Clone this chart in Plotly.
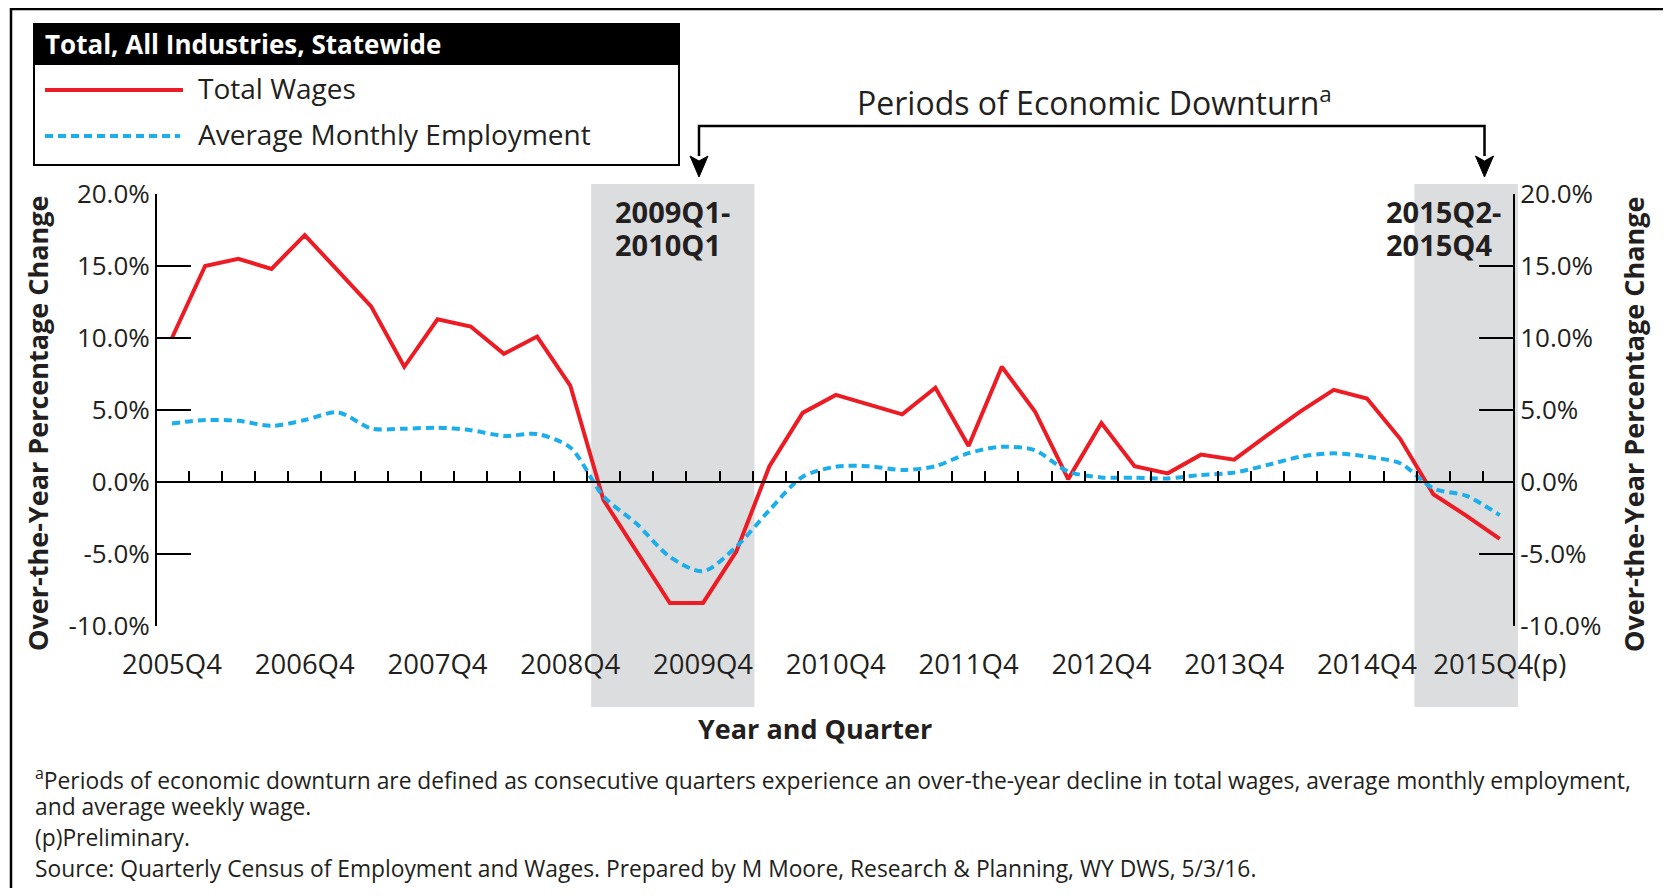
import plotly.graph_objects as go

quarters = ["2005Q4",
            "2006Q1", "2006Q2", "2006Q3", "2006Q4",
            "2007Q1", "2007Q2", "2007Q3", "2007Q4",
            "2008Q1", "2008Q2", "2008Q3", "2008Q4",
            "2009Q1", "2009Q2", "2009Q3", "2009Q4",
            "2010Q1", "2010Q2", "2010Q3", "2010Q4",
            "2011Q1", "2011Q2", "2011Q3", "2011Q4",
            "2012Q1", "2012Q2", "2012Q3", "2012Q4",
            "2013Q1", "2013Q2", "2013Q3", "2013Q4",
            "2014Q1", "2014Q2", "2014Q3", "2014Q4",
            "2015Q1", "2015Q2", "2015Q3", "2015Q4"]

total_wages = [10.0, 15.0, 15.5, 14.8, 17.15, 14.7, 12.2, 8.0, 11.3, 10.8, 8.9, 10.1, 6.7,
               -1.25, -4.84, -8.4, -8.4, -4.84, 1.1, 4.8, 6.05, 5.4, 4.7, 6.55, 2.5, 8.0,
               4.9, 0.2, 4.1, 1.1, 0.6, 1.9, 1.55, 3.25, 4.9, 6.4, 5.8, 3.0, -0.85, -2.35, -3.95]

avg_monthly_employment = [4.07, 4.3, 4.25, 3.9, 4.3, 4.84, 3.72, 3.7, 3.77, 3.6, 3.2, 3.33, 2.4,
                          -1.0, -2.9, -5.2, -6.2, -4.5, -1.95, 0.37, 1.06, 1.1, 0.83, 1.1, 2.0, 2.45,
                          2.2, 0.72, 0.32, 0.3, 0.25, 0.49, 0.65, 1.18, 1.76, 1.99, 1.76, 1.3,
                          -0.44, -0.97, -2.3]

x_label_quarters = ["2005Q4", "2006Q4", "2007Q4", "2008Q4", "2009Q4", "2010Q4",
                    "2011Q4", "2012Q4", "2013Q4", "2014Q4", "2015Q4"]
x_label_text = ["2005Q4", "2006Q4", "2007Q4", "2008Q4", "2009Q4", "2010Q4",
                "2011Q4", "2012Q4", "2013Q4", "2014Q4", "2015Q4(p)"]

y_ticks = [-10, -5, 0, 5, 10, 15, 20]
y_tick_text = ["-10.0%", "-5.0%", "0.0%", "5.0%", "10.0%", "15.0%", "20.0%"]

downturn_start = ["2009Q1", "2015Q2"]
downturn_end = ["2010Q1", "2015Q4"]
downturn_labels = [["2009Q1-", "2010Q1"], ["2015Q2-", "2015Q4"]]

RED = "#ED1C24"
BLUE = "#1BAEEA"
INK = "#231F20"
SHADE = "#DCDDDF"
FONT = "Open Sans"

# page coordinates of the plot area (the page body has an 8px margin)
OFF = 8
W, H = 1660, 880
L, T = 157 - OFF, 194 - OFF
R = W - (1513 - OFF)
B = H - (626 - OFF)
PW, PH = W - L - R, H - T - B


def px(x):
    return (x - OFF - L) / PW


def py(y):
    return (H - B - (y - OFF)) / PH


xi = list(range(len(quarters)))
xr = [-0.45, 40.4]


def dx(v):
    return (v - xr[0]) / (xr[1] - xr[0])


fig = go.Figure()
fig.add_trace(go.Scatter(x=xi, y=total_wages, mode="lines", name="Total Wages",
                         line=dict(color=RED, width=4), showlegend=False))
fig.add_trace(go.Scatter(x=xi, y=avg_monthly_employment, mode="lines",
                         name="Average Monthly Employment",
                         line=dict(color=BLUE, width=4, dash="8px,5px", shape="spline",
                                   smoothing=0.8),
                         showlegend=False))
# helper trace to activate secondary axes
fig.add_trace(go.Scatter(x=xi, y=total_wages, mode="lines", xaxis="x2", yaxis="y2",
                         line=dict(width=0, color="rgba(0,0,0,0)"), hoverinfo="skip",
                         showlegend=False))

shapes = []
annotations = []

# downturn shading
left_pad = [0.37, 0.57]
label_x = [613, 1384]
for k in range(len(downturn_start)):
    i0 = quarters.index(downturn_start[k])
    i1 = quarters.index(downturn_end[k])
    shapes.append(dict(type="rect", xref="paper", yref="paper",
                       x0=dx(i0 - left_pad[k]), x1=dx(i1 + 0.55),
                       y0=py(707), y1=py(184), fillcolor=SHADE, line=dict(width=0),
                       layer="below"))
    for j, line_txt in enumerate(downturn_labels[k]):
        annotations.append(dict(text="<b>" + line_txt + "</b>", xref="paper", yref="paper",
                                x=px(label_x[k]), y=py(211 + 33 * j), xanchor="left",
                                yanchor="middle", showarrow=False,
                                font=dict(family=FONT, size=29, color=INK)))

# outer frame
shapes.append(dict(type="rect", xref="paper", yref="paper", x0=px(11), x1=px(1666),
                   y0=py(905), y1=py(9), line=dict(color="black", width=2.5)))

# legend box
shapes.append(dict(type="rect", xref="paper", yref="paper", x0=px(34), x1=px(679),
                   y0=py(64), y1=py(24), fillcolor="black", line=dict(color="black", width=2)))
shapes.append(dict(type="rect", xref="paper", yref="paper", x0=px(34), x1=px(679),
                   y0=py(165), y1=py(24), line=dict(color="black", width=2)))
shapes.append(dict(type="line", xref="paper", yref="paper", x0=px(45), x1=px(183),
                   y0=py(90), y1=py(90), line=dict(color=RED, width=4)))
shapes.append(dict(type="line", xref="paper", yref="paper", x0=px(45), x1=px(180),
                   y0=py(136), y1=py(136), line=dict(color=BLUE, width=4, dash="8px,5px")))
annotations.append(dict(text="<b>Total, All Industries, Statewide</b>", xref="paper",
                        yref="paper", x=px(43), y=py(44), xanchor="left", yanchor="middle",
                        showarrow=False, font=dict(family=FONT, size=26, color="white")))
annotations.append(dict(text="Total Wages", xref="paper", yref="paper", x=px(196), y=py(88),
                        xanchor="left", yanchor="middle", showarrow=False,
                        font=dict(family=FONT, size=28, color=INK)))
annotations.append(dict(text="Average Monthly Employment", xref="paper", yref="paper",
                        x=px(196), y=py(134), xanchor="left", yanchor="middle",
                        showarrow=False, font=dict(family=FONT, size=28, color=INK)))

# bracket with arrows
bx0, bx1, by, tip, base = 699, 1484.5, 126, 177, 156
shapes.append(dict(type="path", xref="paper", yref="paper",
                   path=f"M {px(bx0)} {py(base)} L {px(bx0)} {py(by)} L {px(bx1)} {py(by)} "
                        f"L {px(bx1)} {py(base)}",
                   line=dict(color="black", width=2.5)))
for bx in (bx0, bx1):
    shapes.append(dict(type="path", xref="paper", yref="paper",
                       path=f"M {px(bx - 9)} {py(base)} L {px(bx)} {py(tip)} "
                            f"L {px(bx + 9)} {py(base)} L {px(bx)} {py(base + 5)} Z",
                       fillcolor="black", line=dict(color="black", width=1)))
annotations.append(dict(text="Periods of Economic Downturn<sup>a</sup>", xref="paper",
                        yref="paper", x=px(1094), y=py(101), xanchor="center",
                        yanchor="middle", showarrow=False,
                        font=dict(family=FONT, size=32, color=INK)))

# axis titles
annotations.append(dict(text="<b>Over-the-Year Percentage Change</b>", xref="paper",
                        yref="paper", x=px(37), y=py(424), textangle=-90, showarrow=False,
                        xanchor="center", yanchor="middle",
                        font=dict(family=FONT, size=27, color=INK)))
annotations.append(dict(text="<b>Over-the-Year Percentage Change</b>", xref="paper",
                        yref="paper", x=px(1633), y=py(424), textangle=-90, showarrow=False,
                        xanchor="center", yanchor="middle",
                        font=dict(family=FONT, size=27, color=INK)))
annotations.append(dict(text="<b>Year and Quarter</b>", xref="paper", yref="paper",
                        x=px(815), y=py(728), showarrow=False, xanchor="center",
                        yanchor="middle", font=dict(family=FONT, size=27, color=INK)))

# footnotes
notes = [("<sup>a</sup>Periods of economic downturn are defined as consecutive quarters experience "
          "an over-the-year decline in total wages, average monthly employment,", 779),
         ("and average weekly wage.", 806),
         ("(p)Preliminary.", 837),
         ("Source: Quarterly Census of Employment and Wages. Prepared by M Moore, Research "
          "&amp; Planning, WY DWS, 5/3/16.", 868)]
for txt, yy in notes:
    annotations.append(dict(text=txt, xref="paper", yref="paper", x=px(33), y=py(yy),
                            xanchor="left", yanchor="middle", showarrow=False,
                            font=dict(family=FONT, size=22.8, color=INK)))

fig.update_layout(
    width=W, height=H,
    margin=dict(l=L, r=R, t=T, b=B),
    paper_bgcolor="white", plot_bgcolor="rgba(0,0,0,0)",
    showlegend=False,
    font=dict(family=FONT, color=INK),
    xaxis=dict(range=xr, tickmode="array",
               tickvals=[quarters.index(q) for q in x_label_quarters], ticktext=x_label_text,
               ticks="outside", ticklen=14, tickcolor="rgba(0,0,0,0)", showline=False,
               showgrid=False, zeroline=False, tickfont=dict(family=FONT, size=27.5, color=INK)),
    xaxis2=dict(range=xr, overlaying="x", anchor="free", position=py(482),
                tickmode="array", tickvals=[i + 0.5 for i in xi[:-1]], ticks="inside",
                ticklen=10, tickwidth=2, tickcolor="black", showticklabels=False,
                showline=True, linewidth=2, linecolor="black", showgrid=False,
                zeroline=False),
    yaxis=dict(range=[-10, 20], tickmode="array", tickvals=y_ticks, ticktext=y_tick_text,
               ticks="inside", ticklen=34, tickwidth=2, tickcolor="black", showline=True,
               linewidth=2, linecolor="black", showgrid=False, zeroline=False,
               tickfont=dict(family=FONT, size=26, color=INK)),
    yaxis2=dict(range=[-10, 20], overlaying="y", side="right", anchor="x", tickmode="array",
                tickvals=y_ticks, ticktext=y_tick_text, ticks="inside", ticklen=34,
                tickwidth=2, tickcolor="black", showline=True, linewidth=2,
                linecolor="black", showgrid=False, zeroline=False,
                tickfont=dict(family=FONT, size=26, color=INK)),
    shapes=shapes,
    annotations=annotations,
)

fig.write_html("out.html")
